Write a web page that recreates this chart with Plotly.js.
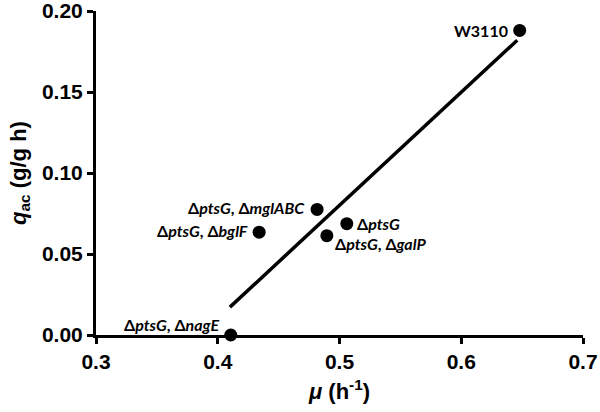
<!DOCTYPE html>
<html>
<head>
<meta charset="utf-8">
<script src="https://cdn.plot.ly/plotly-3.0.1.min.js"></script>
<style>html,body{margin:0;padding:0;background:#fff}#chart{width:600px;height:412px}</style>
</head>
<body>
<div id="chart"></div>
<script>
// Data
var strains = ["W3110", "ΔptsG, ΔmglABC", "ΔptsG", "ΔptsG, ΔgalP", "ΔptsG, ΔbglF", "ΔptsG, ΔnagE"];
var labels = ["W3110", "Δ<i>ptsG</i>, Δ<i>mglABC</i>", "Δ<i>ptsG</i>", "Δ<i>ptsG</i>, Δ<i>galP</i>", "Δ<i>ptsG</i>, Δ<i>bglF</i>", "Δ<i>ptsG</i>, Δ<i>nagE</i>"];
var mu = [0.648, 0.4816, 0.506, 0.4896, 0.434, 0.4107];
var qac = [0.188, 0.0775, 0.0687, 0.0613, 0.0635, 0.0];
var fitX = [0.410, 0.646];
var fitY = [0.0172, 0.182];

// label placement (style only)
var labelPos = [
  {xanchor: "right", yanchor: "middle", xshift: -10, yshift: 0},
  {xanchor: "right", yanchor: "middle", xshift: -10, yshift: 2},
  {xanchor: "left", yanchor: "middle", xshift: 8, yshift: 0},
  {xanchor: "left", yanchor: "middle", xshift: 6, yshift: -8},
  {xanchor: "right", yanchor: "middle", xshift: -9, yshift: 2},
  {xanchor: "right", yanchor: "middle", xshift: -10, yshift: 11}
];

var annFont = {family: "Lato, 'Open Sans', sans-serif", size: 16, color: "#000", weight: "bold"};
var annotations = strains.map(function (s, i) {
  var p = labelPos[i];
  return {
    x: mu[i], y: qac[i], xref: "x", yref: "y", text: labels[i], showarrow: false,
    xanchor: p.xanchor, yanchor: p.yanchor, xshift: p.xshift, yshift: p.yshift, font: annFont
  };
});

var traces = [
  {x: fitX, y: fitY, mode: "lines", type: "scatter", line: {color: "#000", width: 3.5}, hoverinfo: "skip", cliponaxis: false},
  {x: mu, y: qac, text: strains, mode: "markers", type: "scatter", marker: {color: "#000", size: 13}, cliponaxis: false}
];

var tickFont = {family: "'Liberation Sans', Arial, sans-serif", size: 21, color: "#000", weight: "bold"};
var layout = {
  width: 600, height: 412,
  margin: {l: 96, r: 17, t: 11, b: 77},
  showlegend: false,
  paper_bgcolor: "#fff", plot_bgcolor: "#fff",
  xaxis: {
    range: [0.3, 0.7], tickvals: [0.3, 0.4, 0.5, 0.6, 0.7], tickformat: ".1f",
    showgrid: false, zeroline: false, showline: true, linecolor: "#000", linewidth: 3,
    ticks: "outside", ticklen: 6, tickwidth: 3, tickcolor: "#000",
    tickfont: tickFont, ticklabeloverflow: "allow",
    title: {text: "<i>μ</i> (h<sup>-1</sup>)", font: {family: "'Liberation Sans', Arial, sans-serif", size: 22, color: "#000", weight: "bold"}, standoff: 12}
  },
  yaxis: {
    range: [0, 0.2], tickvals: [0, 0.05, 0.1, 0.15, 0.2], tickformat: ".2f",
    showgrid: false, zeroline: false, showline: true, linecolor: "#000", linewidth: 3,
    ticks: "outside", ticklen: 6, tickwidth: 3, tickcolor: "#000",
    tickfont: tickFont, ticklabeloverflow: "allow",
    title: {text: "<i>q</i><sub>ac</sub> (g/g h)", font: {family: "'Liberation Sans', Arial, sans-serif", size: 22, color: "#000", weight: "bold"}, standoff: 10}
  },
  annotations: annotations
};

Plotly.newPlot("chart", traces, layout, {displayModeBar: false, staticPlot: true});
</script>
</body>
</html>
